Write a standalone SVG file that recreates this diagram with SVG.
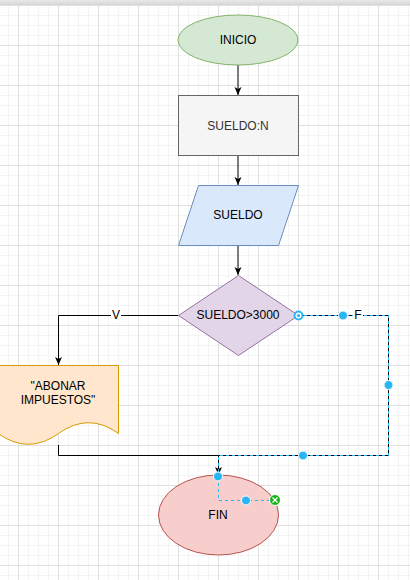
<svg xmlns="http://www.w3.org/2000/svg" width="410" height="580" viewBox="0 0 410 580">
<defs>
<pattern id="minor" patternUnits="userSpaceOnUse" x="8" y="5" width="10" height="10">
<path d="M0,0.5 H10 M0.5,0 V10" stroke="#f4f4f4" stroke-width="1" fill="none"/>
</pattern>
<pattern id="major" patternUnits="userSpaceOnUse" x="18" y="5" width="40" height="40">
<path d="M0,0.5 H40 M0.5,0 V40" stroke="#e0e0e0" stroke-width="1" fill="none"/>
</pattern>
<linearGradient id="topband" x1="0" y1="0" x2="0" y2="1">
<stop offset="0" stop-color="#e9e9e9"/>
<stop offset="1" stop-color="#d6d6d6"/>
</linearGradient>
<marker id="arrow" markerUnits="userSpaceOnUse" viewBox="0 0 8 8" markerWidth="8" markerHeight="8" refX="8" refY="4" orient="auto">
<path d="M0,0.5 L8,4 L0,7.5 L2,4 z" fill="#000"/>
</marker>
</defs>
<style>
text { font-family: "Liberation Sans", Arial, Helvetica, sans-serif; font-size: 12px; text-anchor: middle; fill: #000; }
.edge { fill: none; stroke: #000; stroke-width: 1; }
.sel { fill: none; stroke: #29b6f2; stroke-width: 1; stroke-dasharray: 3 3; }
.handle { fill: #29b6f2; stroke: #fff; stroke-width: 1; }
.lbl { fill: #fff; }
</style>
<rect width="410" height="580" fill="#fff"/>
<rect width="410" height="580" fill="url(#minor)"/>
<rect width="410" height="580" fill="url(#major)"/>
<rect x="0" y="0" width="410" height="5" fill="url(#topband)"/>

<g id="connectors">
<line class="edge" x1="238" y1="65" x2="238" y2="95" marker-end="url(#arrow)"/>
<line class="edge" x1="238" y1="155" x2="238" y2="185" marker-end="url(#arrow)"/>
<line class="edge" x1="238" y1="245" x2="238" y2="275" marker-end="url(#arrow)"/>
<polyline class="edge" points="178.5,315.5 58.5,315.5 58.5,365" marker-end="url(#arrow)"/>
<rect class="lbl" x="111" y="308" width="10" height="14"/>
<text x="116" y="319">V</text>
<polyline class="edge" points="58.5,445 58.5,455.5 218.5,455.5 218.5,475" marker-end="url(#arrow)"/>
<polyline class="edge" points="298,315.5 388.5,315.5 388.5,455.5 218.5,455.5"/>
<polyline class="sel" points="298,315.5 388.5,315.5 388.5,455.5 218.5,455.5 218.5,477"/>
<rect class="lbl" x="353" y="308" width="10" height="14"/>
<text x="358" y="319">F</text>
</g>

<g id="inicio">
<ellipse cx="238" cy="40" rx="60" ry="25" fill="#d5e8d4" stroke="#82b366"/>
<text x="238" y="44">INICIO</text>
</g>

<g id="sueldo-n">
<rect x="178.5" y="95.5" width="120" height="60" fill="#f5f5f5" stroke="#666666"/>
<text x="238" y="130" style="fill:#333333">SUELDO:N</text>
</g>

<g id="sueldo">
<polygon points="198.5,185.5 298.5,185.5 278.5,245.5 178.5,245.5" fill="#dae8fc" stroke="#6c8ebf"/>
<text x="238" y="219">SUELDO</text>
</g>

<g id="decision">
<polygon points="238.5,275.5 298.5,315.5 238.5,355.5 178.5,315.5" fill="#e1d5e7" stroke="#9673a6"/>
<text x="238" y="319">SUELDO&gt;3000</text>
</g>

<g id="abonar">
<path d="M-2,365.5 H118.5 V433.5 Q88.5,411.9 58.5,433.5 Q28.5,455.1 -2,433.5 Z" fill="#ffe6cc" stroke="#d79b00"/>
<text x="58" y="390">"ABONAR</text>
<text x="58" y="404">IMPUESTOS"</text>
</g>

<g id="fin">
<ellipse cx="218.5" cy="515" rx="60" ry="40" fill="#f8cecc" stroke="#b85450"/>
<text x="218" y="519">FIN</text>
</g>

<g id="selection-handles">
<polyline class="sel" points="218.5,477 218.5,500.5 272,500.5"/>
<circle cx="298.5" cy="315.5" r="5" fill="#29b6f2"/>
<circle cx="298.5" cy="315.5" r="3" fill="#fff"/>
<circle cx="298.5" cy="315.5" r="1.6" fill="#29b6f2"/>
<circle class="handle" cx="343" cy="315.5" r="4.5"/>
<circle class="handle" cx="388.5" cy="385" r="4.5"/>
<circle class="handle" cx="303" cy="455.5" r="4.5"/>
<circle class="handle" cx="218" cy="476.5" r="4.5"/>
<circle class="handle" cx="246" cy="500.5" r="4.5"/>
<circle cx="275" cy="500" r="5.5" fill="#1db21d" stroke="#fff" stroke-width="1"/>
<path d="M272.5,497.5 L277.5,502.5 M277.5,497.5 L272.5,502.5" stroke="#fff" stroke-width="1.3"/>
</g>
</svg>
